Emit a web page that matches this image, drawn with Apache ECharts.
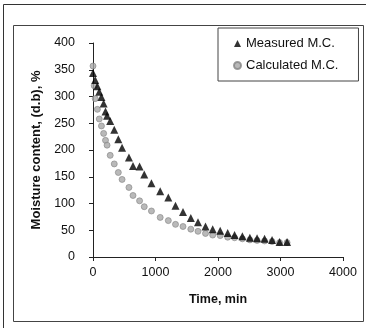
<!DOCTYPE html>
<html>
<head>
<meta charset="utf-8">
<script src="https://cdn.jsdelivr.net/npm/echarts@6/dist/echarts.min.js"></script>
<style>
  html, body { margin: 0; padding: 0; background: #fff; }
  #main { width: 366px; height: 328px; }
</style>
</head>
<body>
<div id="main"></div>
<script>
const xTicks = [0, 1000, 2000, 3000, 4000]
const yTicks = [0, 50, 100, 150, 200, 250, 300, 350, 400]

// measured moisture content (triangles)
const measuredTime = [0, 35, 70, 100, 135, 170, 200, 225, 275, 340, 405, 465, 575, 640, 745, 820, 935, 1075, 1205, 1320, 1440, 1565, 1680, 1800, 1915, 2035, 2155, 2265, 2390, 2510, 2625, 2745, 2865, 2985, 3105]
const measuredMC = [344, 331, 319, 309, 299, 287, 272, 264, 254, 238, 220, 204, 186, 170, 169, 154, 138, 123, 111, 96, 84, 73, 65, 57, 52, 49, 45, 41, 39, 36, 35, 34, 32, 28, 28]

// calculated moisture content (grey dots)
const calcTime = [0, 20, 35, 70, 100, 135, 170, 200, 225, 275, 340, 405, 465, 575, 640, 745, 820, 935, 1075, 1205, 1320, 1440, 1565, 1680, 1800, 1915, 2035, 2155, 2265, 2390, 2510, 2625, 2745, 2865, 2985, 3105]
const calcMC = [357, 320, 296, 276, 258, 245, 231, 218, 209, 190, 174, 158, 145, 130, 115, 105, 94, 86, 74, 68, 61, 57, 52, 48, 44, 41, 40, 37, 36, 34, 32, 31, 30, 29, 27, 27]

const chart = echarts.init(document.getElementById('main'))
const font = 'Liberation Sans, Arial, sans-serif'

const option = {
  animation: false,
  backgroundColor: '#fff',
  textStyle: { fontFamily: font, color: '#111' },
  graphic: [
    { type: 'rect', shape: { x: 3.5, y: 4.5, width: 400, height: 400 }, style: { fill: 'none', stroke: '#333', lineWidth: 1 }, z: -1 },
    { type: 'rect', shape: { x: 13.5, y: 25.5, width: 350, height: 296 }, style: { fill: 'none', stroke: '#444', lineWidth: 1 }, z: -1 }
  ],
  grid: { left: 93, right: 23, top: 43, bottom: 71, containLabel: false },
  legend: {
    orient: 'vertical',
    left: 218,
    top: 28,
    padding: [9, 20, 9, 15],
    itemGap: 9,
    itemWidth: 7,
    itemHeight: 7,
    borderColor: '#444',
    borderWidth: 1,
    backgroundColor: '#fff',
    textStyle: { fontFamily: font, fontSize: 13, color: '#111' },
    data: [
      { name: 'Measured M.C.', icon: 'triangle' },
      { name: 'Calculated M.C.', icon: 'circle' }
    ]
  },
  xAxis: {
    type: 'value',
    min: xTicks[0],
    max: xTicks[xTicks.length - 1],
    interval: 1000,
    name: 'Time, min',
    nameLocation: 'middle',
    nameGap: 36,
    nameTextStyle: { fontFamily: font, fontSize: 12.5, fontWeight: 'bold', color: '#111' },
    axisLine: { show: true, lineStyle: { color: '#222', width: 1 } },
    axisTick: { show: true, inside: false, length: 4, lineStyle: { color: '#222' } },
    axisLabel: { margin: 9, fontSize: 12.5, color: '#111', fontFamily: font, formatter: v => String(v) },
    splitLine: { show: false }
  },
  yAxis: {
    type: 'value',
    min: yTicks[0],
    max: yTicks[yTicks.length - 1],
    interval: 50,
    name: 'Moisture content, (d.b), %',
    nameLocation: 'middle',
    nameGap: 47,
    nameTextStyle: { fontFamily: font, fontSize: 13, fontWeight: 'bold', color: '#111' },
    axisLine: { show: true, lineStyle: { color: '#222', width: 1 } },
    axisTick: { show: true, inside: false, length: 4, lineStyle: { color: '#222' } },
    axisLabel: { margin: 18, fontSize: 12.5, color: '#111', fontFamily: font },
    splitLine: { show: false }
  },
  series: [
    {
      name: 'Calculated M.C.',
      type: 'scatter',
      symbol: 'circle',
      symbolSize: 6,
      itemStyle: { color: '#a8a8a8', borderColor: '#858585', borderWidth: 0.8 },
      data: calcTime.map((t, i) => [t, calcMC[i]]),
      z: 2
    },
    {
      name: 'Measured M.C.',
      type: 'scatter',
      symbol: 'triangle',
      symbolSize: 8,
      itemStyle: { color: '#000' },
      data: measuredTime.map((t, i) => [t, measuredMC[i]]),
      z: 3
    }
  ]
}

chart.setOption(option)
</script>
</body>
</html>
